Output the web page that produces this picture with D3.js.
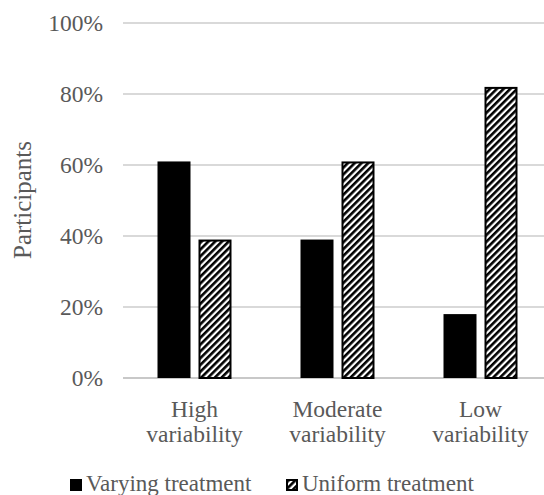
<!DOCTYPE html>
<html><head><meta charset="utf-8">
<script src="https://cdn.jsdelivr.net/npm/d3@7"></script>
<style>body{margin:0;background:#fff}svg{display:block}</style>
</head><body>
<svg id="c" width="544" height="495"></svg>
<script>
const categories = [["High","variability"],["Moderate","variability"],["Low","variability"]];
const seriesNames = ["Varying treatment","Uniform treatment"];
const varying = [61, 39, 18];
const uniform = [39, 61, 82];
const yTicks = [0,20,40,60,80,100];

const svg = d3.select("#c");
const FF = "Liberation Serif";
const txt = "#595959";
const defs = svg.append("defs");
const pat = defs.append("pattern").attr("id","hatch").attr("patternUnits","userSpaceOnUse")
  .attr("width",4.8).attr("height",4.8).attr("patternTransform","rotate(45)");
pat.append("rect").attr("width",4.8).attr("height",4.8).attr("fill","#fff");
pat.append("rect").attr("x",0).attr("y",0).attr("width",2.6).attr("height",4.8).attr("fill","#000");

const x0 = d3.scaleBand().domain(d3.range(categories.length)).range([123, 552]);
const y = d3.scaleLinear().domain([0,100]).range([378, 23]);

// grid
svg.append("g").selectAll("line").data(yTicks).join("line")
  .attr("x1",123).attr("x2",544).attr("y1",d=>y(d)).attr("y2",d=>y(d))
  .attr("stroke","#d9d9d9").attr("stroke-width",2);
svg.append("line").attr("x1",123).attr("x2",544).attr("y1",y(0)).attr("y2",y(0))
  .attr("stroke","#c8c8c8").attr("stroke-width",2);

// y labels
svg.append("g").selectAll("text").data(yTicks).join("text")
  .attr("x",103).attr("y",d=>y(d)+8).attr("text-anchor","end")
  .attr("font-family",FF).attr("font-size",23.5).attr("fill",txt).text(d=>d+"%");

// bars
const bw = 33, gap = 8;
const data = categories.map((c,i)=>({i, v:varying[i], u:uniform[i]}));
const g = svg.append("g");
g.selectAll(".v").data(data).join("rect")
  .attr("x",d=>x0(d.i)+x0.bandwidth()/2-gap/2-bw).attr("width",bw)
  .attr("y",d=>y(d.v)).attr("height",d=>y(0)-y(d.v)).attr("fill","#000");
g.selectAll(".u").data(data).join("rect")
  .attr("x",d=>x0(d.i)+x0.bandwidth()/2+gap/2+1).attr("width",bw-2)
  .attr("y",d=>y(d.u)+1).attr("height",d=>y(0)-y(d.u)-1)
  .attr("fill","url(#hatch)").attr("stroke","#000").attr("stroke-width",2);

// x labels
const xl = svg.append("g").selectAll("text").data(categories).join("text")
  .attr("text-anchor","middle").attr("font-family",FF).attr("font-size",23.5).attr("fill",txt);
xl.each(function(c,i){
  const t=d3.select(this);
  c.forEach((line,k)=>t.append("tspan").attr("x",x0(i)+x0.bandwidth()/2).attr("y",417+k*25).text(line));
});

// y title
svg.append("text").attr("transform","translate(31,200) rotate(-90)").attr("text-anchor","middle")
  .attr("font-family",FF).attr("font-size",25).attr("fill",txt).text("Participants");

// legend
const leg = [{n:seriesNames[0],x:70,f:"#000"},{n:seriesNames[1],x:286,f:"url(#hatch)"}];
leg.forEach(l=>{
  if(l.f==="#000") svg.append("rect").attr("x",l.x).attr("y",479).attr("width",12).attr("height",12).attr("fill","#000");
  else svg.append("rect").attr("x",l.x+1).attr("y",480).attr("width",10).attr("height",10).attr("fill",l.f).attr("stroke","#000").attr("stroke-width",2);
  svg.append("text").attr("x",l.x+16).attr("y",491).attr("font-family",FF).attr("font-size",23).attr("fill",txt).text(l.n);
});
</script>
</body></html>
